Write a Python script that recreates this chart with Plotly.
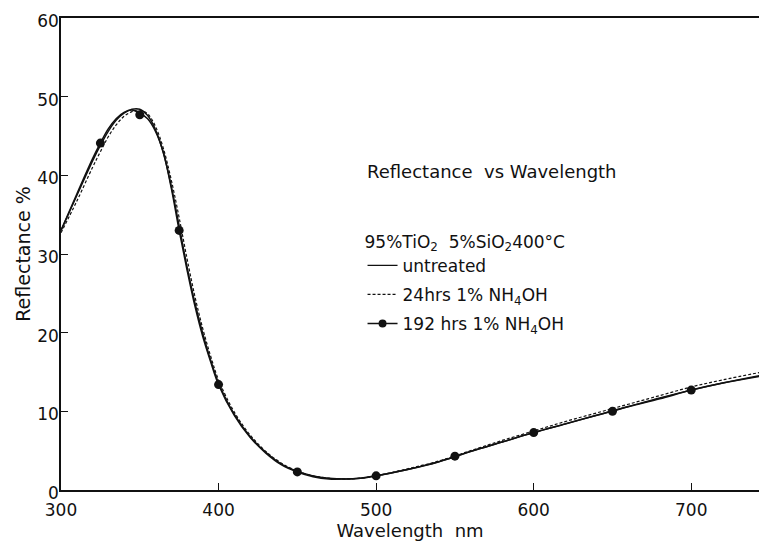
import plotly.graph_objects as go

# Wavelength grid (nm) for the smooth curves
wavelength = [300, 310, 320, 325, 330, 335, 340, 345, 350, 355, 360, 365, 370, 375,
              380, 385, 390, 395, 400, 410, 420, 430, 440, 450, 460, 470, 480, 490,
              500, 520, 540, 560, 580, 600, 620, 640, 660, 680, 700, 720, 745]

# Reflectance (%) of each sample
untreated = [33.0, 37.4, 41.8, 43.8, 45.6, 47.0, 47.9, 48.4, 48.4, 47.6, 45.8, 42.8, 38.6, 33.6,
             28.4, 23.8, 19.9, 16.5, 13.6, 9.6, 6.8, 4.8, 3.3, 2.4, 1.8, 1.5, 1.4, 1.5,
             1.8, 2.6, 3.6, 4.9, 6.1, 7.3, 8.4, 9.5, 10.6, 11.7, 12.7, 13.6, 14.6]

hrs24 = [32.7, 36.7, 41.0, 43.0, 44.9, 46.4, 47.5, 48.1, 48.3, 47.8, 46.2, 43.4, 39.4, 34.6,
         29.4, 24.6, 20.5, 17.0, 14.0, 9.9, 7.0, 4.9, 3.4, 2.4, 1.8, 1.5, 1.4, 1.5,
         1.8, 2.7, 3.7, 5.0, 6.3, 7.5, 8.7, 9.8, 10.9, 12.0, 13.1, 14.0, 15.0]

hrs192 = [33.0, 37.6, 42.1, 44.1, 45.9, 47.2, 48.0, 48.3, 47.9, 47.2, 45.6, 42.9, 38.4, 33.0,
          28.0, 23.4, 19.5, 16.3, 13.4, 9.5, 6.7, 4.7, 3.2, 2.3, 1.7, 1.4, 1.4, 1.5,
          1.8, 2.6, 3.6, 4.9, 6.1, 7.3, 8.4, 9.5, 10.6, 11.6, 12.7, 13.6, 14.5]

# Measured points marked on the 192 hrs curve
marker_wl = [325, 350, 375, 400, 450, 500, 550, 600, 650, 700]
marker_r = [44.1, 47.7, 33.0, 13.4, 2.3, 1.8, 4.3, 7.3, 10.0, 12.7]

x_ticks = [300, 400, 500, 600, 700]
y_ticks = [0, 10, 20, 30, 40, 50, 60]

FONT = "DejaVu Sans"
INK = "#111111"

fig = go.Figure()

fig.add_trace(go.Scatter(
    x=wavelength, y=untreated, mode="lines", line_shape="spline",
    line=dict(color=INK, width=1.4), name="untreated", legendgroup="a"))

fig.add_trace(go.Scatter(
    x=wavelength, y=hrs24, mode="lines", line_shape="spline",
    line=dict(color=INK, width=1.2, dash="3px,2px"),
    name="24hrs 1% NH<sub>4</sub>OH", legendgroup="b"))

fig.add_trace(go.Scatter(
    x=wavelength, y=hrs192, mode="lines", line_shape="spline",
    line=dict(color=INK, width=1.6), showlegend=False, legendgroup="c"))

fig.add_trace(go.Scatter(
    x=marker_wl, y=marker_r, mode="markers",
    marker=dict(color=INK, size=9), showlegend=False, legendgroup="c"))

# legend entry for the marked series (line with dot)
fig.add_trace(go.Scatter(
    x=[None], y=[None], mode="lines+markers",
    line=dict(color=INK, width=1.6), marker=dict(color=INK, size=8),
    name="192 hrs 1% NH<sub>4</sub>OH", legendgroup="c"))

fig.add_annotation(
    text="Reflectance  vs Wavelength", xref="paper", yref="paper",
    x=0.436, y=0.674, xanchor="left", yanchor="middle", showarrow=False,
    font=dict(family=FONT, size=18, color=INK))

fig.update_layout(
    width=759, height=548,
    margin=dict(l=61, r=0, t=18, b=58),
    paper_bgcolor="white", plot_bgcolor="white",
    font=dict(family=FONT, size=17, color=INK),
    showlegend=True,
    legend=dict(
        x=0.432, y=0.56, xanchor="left", yanchor="top",
        bgcolor="rgba(0,0,0,0)", tracegroupgap=4,
        title=dict(text="95%TiO<sub>2</sub>  5%SiO<sub>2</sub>400°C",
                   font=dict(family=FONT, size=17, color=INK)),
        font=dict(family=FONT, size=17, color=INK),
        itemwidth=30,
    ),
    xaxis=dict(
        range=[300, 743], tickvals=x_ticks, ticks="inside", ticklen=7,
        tickcolor=INK, showline=True, linecolor=INK, linewidth=1.5,
        mirror=True, showgrid=False, zeroline=False, ticklabelstandoff=4,
        tickfont=dict(family=FONT, size=17, color=INK),
        title=dict(text="Wavelength  nm", standoff=2,
                   font=dict(family=FONT, size=18, color=INK)),
    ),
    yaxis=dict(
        range=[0, 60], tickvals=y_ticks, ticks="inside", ticklen=7,
        tickcolor=INK, showline=True, linecolor=INK, linewidth=1.5,
        showgrid=False, zeroline=False, ticklabelstandoff=-3, ticklabelshift=3,
        tickfont=dict(family=FONT, size=17, color=INK),
        title=dict(text="Reflectance %", standoff=2,
                   font=dict(family=FONT, size=19, color=INK)),
    ),
)

fig.write_html("out.html")
